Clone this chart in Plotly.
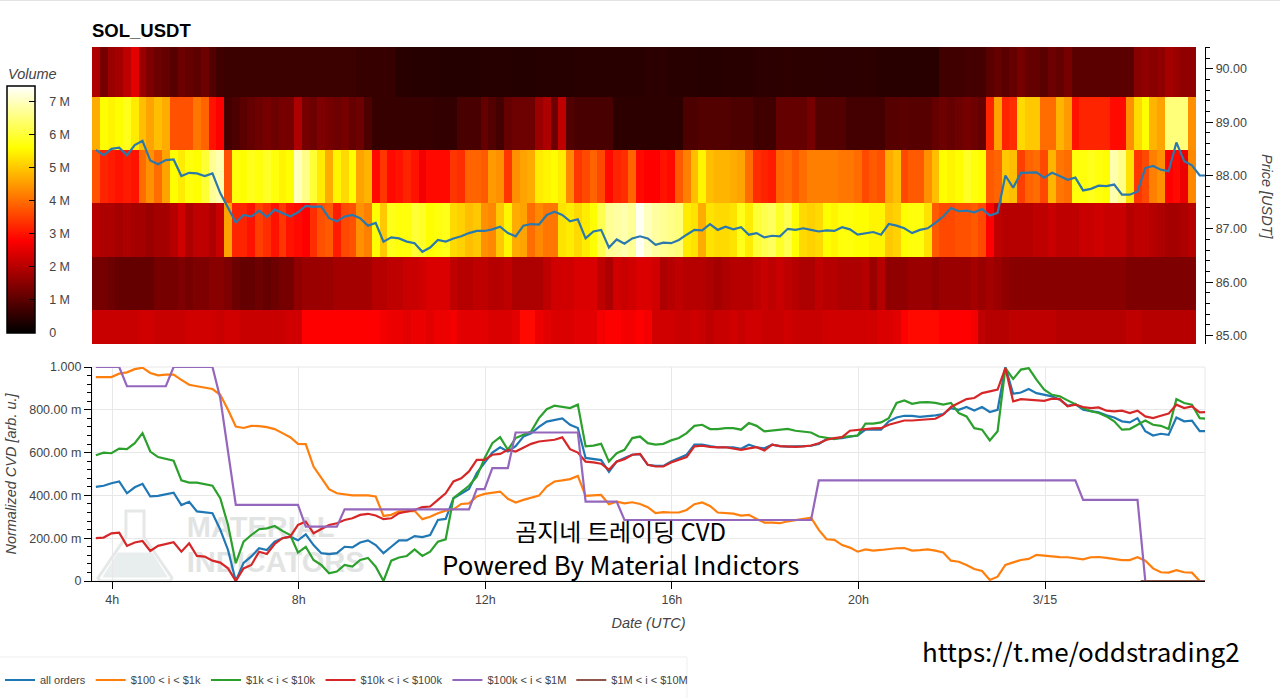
import plotly.graph_objs as go

W = 1280
H = 698

# one heatmap cell / line sample every 10 minutes, hours counted from 3/14 00:00
price_levels = [84.98, 85.98, 86.98, 87.98, 88.98, 89.98]

vol_85 = [2.2,2.2,2.2,2.2,2.2,2.2,2.3,2.3,2.2,2.2,2.2,2.2,
          2.3,2.3,2.3,2.3,2.2,2.3,2.3,2.2,2.2,2.2,2.2,2.2,
          2.2,2.3,2.3,2.8,2.8,2.8,2.8,2.8,2.8,2.8,2.8,2.8,
          2.8,2.7,2.6,2.6,2.5,2.6,2.6,2.5,2.6,2.6,2.7,2.5,
          2.5,2.5,2.5,2.4,2.4,2.4,2.5,2.9,2.9,2.6,2.5,2.4,
          2.4,2.4,2.5,2.5,2.5,2.7,2.8,2.8,2.7,2.7,2.8,2.7,
          2.3,2.3,2.3,2.2,2.2,2.3,2.2,2.1,2.2,2.2,2.3,2.2,
          2.3,2.3,2.2,2.2,2.2,2.3,2.2,2.2,2.2,2.2,2.3,2.3,
          2.3,2.3,2.3,2.3,2.3,2.4,2.4,2.5,2.8,2.9,2.9,2.9,
          2.9,2.8,2.8,2.8,2.8,2.7,2.1,2.0,2.0,2.0,2.1,2.1,
          2.1,2.1,2.1,2.1,2.0,2.0,2.0,2.0,2.0,2.0,2.0,2.0,
          2.0,2.1,2.1,2.0,2.0,2.0,2.0,2.0,2.0,2.0]
vol_86 = [1.3,1.3,1.2,1.1,1.1,1.1,1.1,1.1,1.3,1.3,1.3,1.4,
          1.3,1.4,1.4,1.5,1.5,1.4,1.2,1.1,1.1,1.2,1.1,1.2,
          1.3,1.3,1.6,1.7,1.7,1.7,1.7,1.8,1.8,1.8,1.8,1.8,
          2.0,2.0,2.1,2.1,2.2,2.2,2.3,2.4,2.4,2.4,2.1,2.0,
          2.0,2.1,2.1,2.0,2.0,2.1,1.9,1.9,1.9,1.9,2.1,2.3,
          2.3,2.3,2.4,2.4,2.4,2.1,1.9,2.3,2.2,2.3,2.4,2.4,
          2.3,1.9,2.0,2.1,2.0,2.0,2.0,1.9,1.8,1.9,2.0,2.0,
          2.0,2.1,2.2,2.1,2.2,2.1,2.0,1.9,1.9,2.1,2.0,2.0,
          1.9,1.9,1.9,2.0,1.7,2.0,1.6,1.6,1.6,1.7,1.7,1.7,
          1.6,1.7,1.7,1.7,1.7,1.8,1.7,1.8,1.7,1.6,1.5,1.5,
          1.5,1.5,1.5,1.5,1.5,1.5,1.5,1.5,1.5,1.5,1.5,1.5,
          1.5,1.4,1.4,1.4,1.4,1.4,1.4,1.4,1.4,1.4]
vol_87 = [2.0,1.9,1.9,1.8,1.9,1.8,1.8,1.7,1.8,1.8,2.0,2.3,
          1.9,2.1,2.1,1.9,2.2,4.6,3.2,3.2,3.0,3.5,3.3,3.0,
          3.4,3.0,2.9,2.8,3.3,3.7,3.8,3.1,3.6,3.7,4.4,4.2,
          5.6,5.0,5.8,5.7,5.7,6.0,5.9,5.6,5.7,5.8,5.2,5.1,
          4.9,5.0,4.4,4.3,5.0,5.5,4.7,4.6,4.0,4.3,4.1,4.1,
          5.3,5.4,5.2,5.4,5.6,6.2,6.7,6.8,6.9,6.7,7.4,7.0,
          6.8,6.7,6.6,6.5,5.4,5.3,4.7,5.3,5.2,5.2,5.3,5.8,
          5.4,6.0,6.2,6.3,5.9,6.2,5.6,5.2,5.1,5.2,5.6,5.5,
          5.7,5.7,5.6,5.6,5.5,5.5,5.0,5.1,5.6,5.7,5.7,5.3,
          3.8,3.6,3.6,3.7,3.7,3.8,3.6,2.8,2.1,2.0,2.0,2.0,
          2.0,2.1,2.1,2.2,2.1,2.1,2.1,2.2,2.2,2.3,2.2,2.2,
          2.2,2.0,2.1,2.1,2.0,1.9,1.8,1.8,1.9,2.0]
vol_88 = [3.7,3.2,3.1,3.0,3.1,3.0,4.0,4.4,4.0,4.6,5.6,5.4,
          5.7,5.6,6.0,6.7,6.9,3.7,5.7,5.6,5.8,5.7,5.9,5.7,
          5.5,5.6,7.0,6.6,6.0,5.4,4.7,5.5,5.2,5.6,4.6,4.8,
          2.9,3.4,2.9,3.0,3.2,3.0,2.7,2.9,2.9,2.9,3.4,3.3,
          3.9,3.9,3.8,4.5,4.4,3.4,4.4,4.6,4.7,5.4,5.5,5.6,
          5.4,4.3,3.4,3.6,3.9,3.6,2.9,3.2,3.3,3.9,2.9,2.8,
          2.8,3.0,2.9,3.8,4.2,4.9,5.5,4.9,4.8,4.8,4.7,4.6,
          4.0,3.3,3.2,3.1,3.9,4.0,3.8,4.0,4.2,4.2,4.2,4.2,
          4.1,4.1,4.0,3.6,3.8,3.7,4.7,4.9,3.6,3.8,3.8,4.4,
          4.9,5.6,5.5,5.6,5.9,5.7,5.6,3.8,3.9,5.0,4.9,3.5,
          3.9,4.0,3.6,4.8,4.1,4.0,5.7,5.7,5.8,5.7,5.6,6.9,
          6.6,5.3,3.4,3.6,4.2,4.4,2.8,2.9,2.6,4.3]
vol_89 = [4.7,5.6,5.5,5.6,5.8,5.4,4.9,4.6,4.9,4.7,3.7,3.7,
          3.7,4.1,3.9,3.0,2.8,.75,.85,1.0,1.1,1.2,1.3,1.2,
          1.3,1.3,1.9,1.3,1.2,1.4,1.3,1.2,1.3,1.1,1.2,.85,
          .6,.6,.6,.6,.6,.6,.6,.6,.55,.55,.55,.8,
          .8,.8,1.1,.9,.75,1.1,1.2,1.2,1.2,1.7,1.9,1.2,
          2.1,.9,.8,.8,.8,.8,.8,.5,.5,.5,.5,.5,
          .5,.5,.5,.5,.85,.85,.9,.9,.9,.9,.85,.85,
          .85,.7,.7,.7,1.1,1.1,1.1,1.1,1.3,.9,.9,.9,
          .9,.75,.75,.75,.75,.75,.95,.95,1.0,.95,.95,.95,
          1.1,1.2,1.1,1.2,1.3,1.2,1.1,3.2,4.6,3.2,3.3,5.2,
          5.0,5.0,4.0,4.0,4.8,4.5,3.0,3.2,3.2,3.2,3.2,2.9,
          2.9,4.4,5.2,5.6,4.8,4.6,6.5,6.5,6.5,4.4]
vol_90 = [1.9,1.3,1.7,1.8,2.1,2.5,1.7,1.4,1.2,1.1,.95,1.2,
          1.1,1.05,1.2,.9,.7,.65,.65,.65,.65,.65,.65,.65,
          .65,.65,.65,.65,.65,.65,.65,.65,.65,.65,.6,.6,
          .6,.6,.6,.45,.45,.42,.42,.42,.42,.4,.4,.4,
          .4,.4,.42,.42,.42,.42,.4,.4,.4,.42,.42,.42,
          .42,.42,.45,.45,.45,.45,.45,.45,.45,.45,.45,.48,
          .48,.48,.45,.45,.45,.45,.42,.42,.42,.45,.45,.45,
          .45,.48,.48,.48,.5,.52,.5,.5,.5,.5,.48,.48,
          .48,.48,.5,.5,.5,.45,.45,.45,.45,.45,.45,.45,
          .45,.7,.7,.7,.75,.75,.75,1.0,1.1,1.0,1.1,1.3,
          1.1,1.1,1.0,1.2,1.1,1.3,1.0,1.0,1.0,1.0,1.0,1.0,
          1.0,1.0,1.5,1.6,1.5,1.6,1.8,1.7,1.6,1.6]

price = [88.48,88.38,88.50,88.52,88.38,88.57,88.65,88.28,88.21,88.29,88.30,87.99,
         88.05,88.04,87.99,88.04,87.67,87.39,87.12,87.26,87.23,87.34,87.22,87.36,
         87.30,87.23,87.31,87.43,87.41,87.42,87.20,87.14,87.23,87.26,87.20,87.06,
         87.11,86.76,86.84,86.82,86.76,86.73,86.57,86.65,86.79,86.76,86.82,86.86,
         86.92,86.96,86.96,86.99,87.04,86.92,86.86,87.06,87.09,87.08,87.26,87.32,
         87.26,87.14,87.18,86.82,86.95,86.98,86.65,86.80,86.72,86.82,86.86,86.82,
         86.70,86.74,86.73,86.79,86.89,86.98,86.97,87.09,86.98,87.04,86.99,87.03,
         86.89,86.92,86.84,86.87,86.86,87.00,86.98,87.01,86.98,86.95,86.97,86.96,
         87.03,86.99,86.89,86.92,86.94,86.89,87.09,87.06,87.01,86.92,86.98,87.01,
         87.11,87.23,87.39,87.33,87.34,87.31,87.37,87.25,87.30,88.00,87.77,88.05,
         88.05,88.06,87.96,88.05,87.99,87.92,87.96,87.72,87.75,87.81,87.80,87.83,
         87.64,87.64,87.70,88.14,88.18,88.11,88.08,88.62,88.27,88.19,88.00,88.00]

cvd_all = [.440,.445,.457,.465,.410,.438,.454,.395,.398,.404,.413,.355,
           .370,.325,.320,.317,.240,.145,.000,.085,.115,.153,.145,.184,
           .200,.207,.190,.218,.168,.130,.126,.130,.160,.157,.180,.190,
           .168,.130,.160,.190,.190,.210,.205,.215,.285,.290,.387,.407,
           .430,.504,.550,.600,.625,.605,.630,.675,.690,.720,.745,.753,
           .760,.730,.715,.575,.570,.565,.510,.558,.575,.590,.593,.543,
           .538,.538,.558,.575,.590,.637,.637,.630,.625,.625,.624,.618,
           .637,.625,.620,.637,.630,.628,.628,.630,.632,.640,.663,.665,
           .668,.675,.680,.707,.707,.707,.746,.764,.772,.772,.767,.769,
           .774,.780,.808,.800,.813,.797,.813,.790,.800,1.000,.875,.881,
           .897,.878,.870,.863,.847,.819,.827,.800,.794,.788,.774,.764,
           .746,.741,.761,.700,.680,.688,.683,.764,.746,.749,.700,.700]
cvd_100 = [.953,.953,.953,.969,.975,.990,.997,.972,.961,.964,.964,.940,
           .917,.910,.905,.897,.870,.800,.722,.715,.725,.724,.719,.710,
           .691,.672,.641,.640,.535,.480,.429,.410,.406,.400,.400,.400,
           .395,.304,.309,.325,.325,.328,.289,.300,.317,.329,.335,.360,
           .363,.395,.407,.413,.418,.384,.367,.379,.390,.399,.441,.465,
           .470,.476,.491,.398,.400,.402,.359,.371,.363,.368,.360,.345,
           .317,.322,.320,.320,.332,.359,.367,.351,.320,.317,.315,.306,
           .309,.290,.273,.273,.270,.279,.285,.292,.296,.239,.195,.192,
           .168,.156,.137,.148,.142,.145,.150,.153,.154,.142,.144,.148,
           .142,.133,.095,.090,.075,.056,.047,.005,.020,.075,.087,.098,
           .103,.122,.119,.114,.112,.111,.106,.101,.111,.112,.108,.103,
           .098,.098,.111,.095,.059,.041,.039,.051,.041,.039,.000,.000]
cvd_1k = [.588,.600,.597,.619,.616,.644,.691,.605,.579,.569,.562,.470,
          .460,.460,.451,.445,.387,.262,.083,.184,.215,.242,.246,.257,
          .234,.215,.133,.160,.098,.075,.036,.044,.075,.067,.098,.108,
          .067,.000,.095,.110,.117,.148,.117,.137,.184,.195,.387,.418,
          .445,.488,.574,.644,.672,.613,.668,.683,.699,.761,.803,.819,
          .813,.808,.824,.629,.633,.641,.558,.597,.613,.668,.675,.644,
          .637,.641,.657,.668,.691,.725,.730,.710,.710,.714,.714,.707,
          .738,.725,.699,.702,.707,.711,.702,.697,.694,.675,.668,.663,
          .672,.675,.680,.735,.735,.741,.761,.832,.844,.828,.835,.836,
          .832,.824,.832,.785,.769,.714,.707,.657,.700,.995,.944,.988,
          .995,.941,.894,.870,.863,.844,.824,.808,.793,.785,.769,.746,
          .707,.710,.730,.750,.730,.725,.710,.850,.832,.824,.761,.757]
cvd_10k = [.200,.203,.223,.226,.164,.180,.187,.140,.164,.173,.181,.137,
           .176,.117,.114,.095,.086,.059,.000,.059,.075,.137,.126,.173,
           .200,.207,.262,.278,.223,.243,.262,.270,.285,.293,.309,.314,
           .306,.289,.293,.317,.325,.332,.345,.348,.379,.410,.465,.480,
           .512,.566,.566,.590,.594,.613,.605,.624,.641,.652,.657,.660,
           .671,.616,.600,.558,.554,.548,.520,.558,.569,.590,.594,.543,
           .535,.535,.554,.566,.579,.629,.632,.627,.624,.625,.620,.613,
           .620,.625,.610,.637,.630,.627,.627,.629,.633,.644,.660,.668,
           .672,.702,.707,.710,.713,.714,.730,.741,.750,.750,.753,.753,
           .758,.777,.813,.832,.850,.855,.878,.886,.894,.995,.839,.850,
           .847,.847,.842,.852,.850,.816,.824,.813,.808,.811,.796,.793,
           .796,.785,.796,.769,.761,.772,.782,.824,.808,.816,.788,.789]
cvd_100k = [1.0,1.0,1.0,1.0,.91,.91,.91,.91,.91,.91,1.0,1.0,
            1.0,1.0,1.0,1.0,.855,.60,.356,.356,.356,.356,.356,.356,
            .356,.356,.356,.254,.254,.254,.254,.254,.335,.335,.335,.335,
            .335,.335,.335,.335,.335,.335,.335,.335,.335,.335,.335,.335,
            .335,.429,.429,.527,.527,.527,.694,.694,.694,.694,.694,.694,
            .694,.694,.694,.371,.371,.371,.371,.371,.285,.285,.285,.285,
            .285,.285,.285,.285,.285,.285,.285,.285,.285,.285,.285,.285,
            .285,.285,.285,.285,.285,.285,.285,.285,.285,.470,.470,.470,
            .470,.470,.470,.470,.470,.470,.470,.470,.470,.470,.470,.470,
            .470,.470,.470,.470,.470,.470,.470,.470,.470,.470,.470,.470,
            .470,.470,.470,.470,.470,.470,.470,.379,.379,.379,.379,.379,
            .379,.379,.379,.000,.000,.000,.000,.000,.000,.000,.000,.000]
# only visible where it leaves the axis line, after the purple series drops to 0
cvd_1m = [0, 0]
cvd_1m_hours = [26.05, 27.48]

hours = [3.65 + i / 6 for i in range(len(price))]

colorbar_ticks = [0, 1, 2, 3, 4, 5, 6, 7]
colorbar_labels = ['\u00a0\u00a0\u00a0' + t for t in ['0', '1 M', '2 M', '3 M', '4 M', '5 M', '6 M', '7 M']]
price_ticks = [85, 86, 87, 88, 89, 90]
cvd_ticks = [0, .2, .4, .6, .8, 1]
cvd_labels = ['0', '200.00 m', '400.00 m', '600.00 m', '800.00 m', '1.000']
date_ticks = [4, 8, 12, 16, 20, 24]
date_labels = ['4h', '8h', '12h', '16h', '20h', '3/15']

# watermark words sit under the lines, so they go in as a text trace
mark_hours = [5.6, 5.6]
mark_vals = [.238, .075]
mark_words = ['MATERIAL', 'INDICATORS']

FONT = 'Liberation Sans'
GREY = '#444444'
HOT = [[0, '#000000'], [.375, '#ff0000'], [.75, '#ffff00'], [1, '#ffffff']]


def px(x):
    return x / W


def py(y):
    return 1 - y / H


def flask_path(points):
    # points in page pixels, closed outline for a paper-referenced shape
    coords = ['{:.4f},{:.4f}'.format(px(x), py(y)) for x, y in points]
    return 'M' + ' L'.join(coords) + ' Z'


def note(text, x, y, font, **kw):
    return dict(text=text, xref='paper', yref='paper', x=px(x), y=py(y), showarrow=False,
                xanchor=kw.pop('xanchor', 'center'), yanchor='middle', font=font, **kw)


heat = go.Heatmap(x=hours[:len(vol_85)], y=price_levels,
                  z=[vol_85, vol_86, vol_87, vol_88, vol_89, vol_90],
                  colorscale=HOT, zmin=0, zmax=7.48, xaxis='x', yaxis='y',
                  colorbar=dict(x=px(7), xanchor='left', xpad=0, ypad=0,
                                y=py(333), yanchor='bottom',
                                thickness=28, thicknessmode='pixels',
                                len=247, lenmode='pixels',
                                outlinecolor='black', outlinewidth=1.5,
                                ticks='inside', ticklen=6, tickcolor='black',
                                tickvals=colorbar_ticks, ticktext=colorbar_labels,
                                tickfont=dict(family=FONT, size=12.5, color=GREY)))

fig = go.Figure(data=[heat])

fig.add_trace(go.Scatter(x=hours, y=price, mode='lines', showlegend=False,
                         line=dict(color='#2b78ac', width=2.2), xaxis='x', yaxis='y'))

fig.add_trace(go.Scatter(x=mark_hours, y=mark_vals, text=mark_words, mode='text',
                         textposition='middle right', showlegend=False, hoverinfo='skip',
                         textfont=dict(family=FONT, size=29, color='#e2e4e4', weight='bold'),
                         xaxis='x2', yaxis='y2'))

series = [('all orders', cvd_all, '#1f77b4'),
          ('$100 < i < $1k', cvd_100, '#ff7f0e'),
          ('$1k < i < $10k', cvd_1k, '#2ca02c'),
          ('$10k < i < $100k', cvd_10k, '#d62728'),
          ('$100k < i < $1M', cvd_100k, '#9467bd')]
for name, vals, color in series:
    fig.add_trace(go.Scatter(x=hours, y=vals, mode='lines', name=name,
                             line=dict(color=color, width=2.2), xaxis='x2', yaxis='y2'))
fig.add_trace(go.Scatter(x=cvd_1m_hours, y=cvd_1m, mode='lines', name='$1M < i < $10M',
                         line=dict(color='#8c564b', width=2.2), xaxis='x2', yaxis='y2'))

shapes = [
    # faint frame round the lower plot and the legend, hairline at the page top
    dict(type='rect', xref='paper', yref='paper', x0=px(92), x1=px(1205), y0=py(581), y1=py(367),
         line=dict(color='#e8e8e8', width=1), layer='below'),
    dict(type='rect', xref='paper', yref='paper', x0=px(-2), x1=px(687), y0=py(702), y1=py(657),
         line=dict(color='#efefef', width=1), layer='below'),
    dict(type='line', xref='paper', yref='paper', x0=0, x1=1, y0=py(0.5), y1=py(0.5),
         line=dict(color='#e2e2e2', width=1)),
    # flask logo of the watermark
    dict(type='path', xref='paper', yref='paper', layer='below',
         path=flask_path([(126, 511), (144, 511), (144, 537), (172, 578), (170, 581),
                          (100, 581), (98, 578), (126, 537)]),
         line=dict(color='#e6e8e8', width=3), fillcolor='rgba(0,0,0,0)'),
    dict(type='path', xref='paper', yref='paper', layer='below',
         path=flask_path([(118, 553), (152, 553), (167, 577), (103, 577)]),
         line=dict(color='#e8eded', width=1), fillcolor='#e8eded'),
]

tick_font = dict(family=FONT, size=12.5, color=GREY)
title_font = dict(family=FONT, size=14.5, color=GREY, style='italic')
big_font = dict(family='Noto Sans CJK KR', size=25.8, color='black')

annotations = [
    note('Volume', 6, 74, title_font, xanchor='left'),
    note('Price [USDT]', 1267, 197, title_font, textangle=90),
    note('<span style="font-size:24px">곰지네 트레이딩 CVD</span><br>Powered By Material Indictors',
         620, 547, big_font),
    note('https://t.me/oddstrading2', 1081, 650, dict(big_font, size=26)),
]

fig.update_layout(
    width=W, height=H, margin=dict(l=0, r=0, t=0, b=0, autoexpand=False), autosize=False,
    paper_bgcolor='white', plot_bgcolor='white',
    title=dict(text='<b>SOL_USDT</b>', x=px(92), y=py(31), xanchor='left', yanchor='middle',
               font=dict(family=FONT, size=18.5, color='black')),
    shapes=shapes, annotations=annotations,
    legend=dict(orientation='h', x=0, y=py(680), xanchor='left', yanchor='middle',
                bgcolor='rgba(0,0,0,0)', font=dict(family=FONT, size=11, color=GREY)),
    xaxis=dict(domain=[px(92), px(1205)], range=[3.567, 27.43], anchor='y', visible=False),
    yaxis=dict(domain=[py(344), py(47)], range=[84.84, 90.41], anchor='x', side='right',
               showgrid=False, zeroline=False, showline=True, linecolor='black', linewidth=1.3,
               ticks='outside', ticklen=7, tickcolor='black', tickwidth=1.2,
               tickvals=price_ticks, tickformat='.2f', tickfont=tick_font,
               minor=dict(dtick=.2, tick0=85, ticks='outside', ticklen=4, tickcolor='black')),
    xaxis2=dict(domain=[px(92), px(1205)], range=[3.567, 27.43], anchor='y2',
                showgrid=True, gridcolor='#e8e8e8', zeroline=False,
                showline=True, linecolor='black', linewidth=1.3,
                ticks='outside', ticklen=7, tickcolor='black', tickwidth=1.2,
                tickvals=date_ticks, ticktext=date_labels, tickfont=tick_font,
                title=dict(text='Date (UTC)', font=title_font, standoff=11)),
    yaxis2=dict(domain=[py(581), py(367)], range=[0, 1], anchor='x2',
                showgrid=True, gridcolor='#e8e8e8', zeroline=False,
                showline=True, linecolor='black', linewidth=1.3,
                ticks='outside', ticklen=7, tickcolor='black', tickwidth=1.2,
                tickvals=cvd_ticks, ticktext=cvd_labels, tickfont=tick_font,
                minor=dict(dtick=.04, tick0=0, ticks='outside', ticklen=4, tickcolor='black'),
                title=dict(text='Normalized CVD [arb. u.]', font=title_font, standoff=9)),
)

fig.write_html("out.html", config={'displayModeBar': False},
               post_script="document.body.style.margin='0';")
